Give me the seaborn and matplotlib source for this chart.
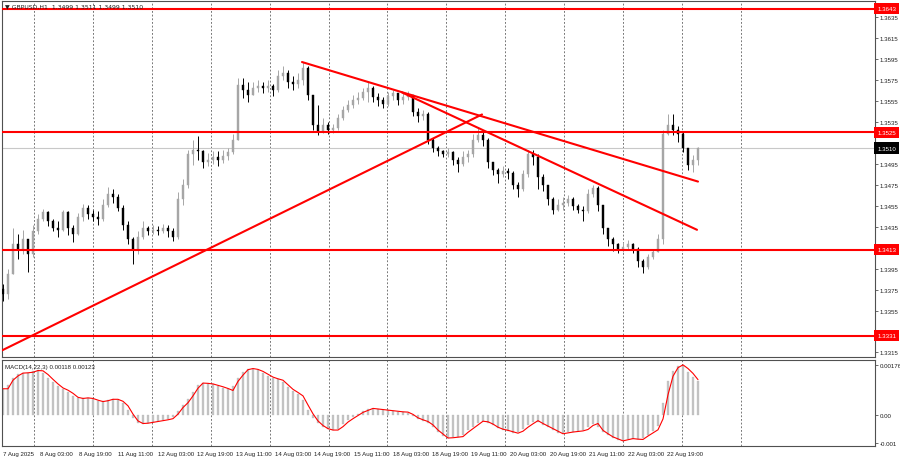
import numpy as np
import pandas as pd
import matplotlib
matplotlib.use("Agg")
import matplotlib.pyplot as plt
import matplotlib.transforms as mtransforms
import seaborn as sns

# ---------------- data ----------------
symbol = "GBPUSD,H1"
header_ohlc = ["1.3499", "1.3511", "1.3499", "1.3510"]
macd_title = "MACD(14,22,3) 0.00118 0.00123"

first_open = 1.3376
closes = [1.3371, 1.3390, 1.3418, 1.3414, 1.3423, 1.3409, 1.3431, 1.3442, 1.3449, 1.3440,
          1.3434, 1.3432, 1.3449, 1.3434, 1.3428, 1.3444, 1.3453, 1.3447, 1.3444, 1.3442,
          1.3456, 1.3466, 1.3463, 1.3453, 1.3437, 1.3423, 1.3414, 1.3425, 1.3434, 1.3431,
          1.3432, 1.3431, 1.3434, 1.3431, 1.3425, 1.3461, 1.3475, 1.3504, 1.3508, 1.3507,
          1.3497, 1.3499, 1.3501, 1.3499, 1.3502, 1.3506, 1.3518, 1.3570, 1.3565, 1.3561,
          1.3567, 1.3569, 1.3567, 1.3569, 1.3565, 1.3579, 1.3582, 1.3573, 1.3571, 1.3575,
          1.3586, 1.3561, 1.3532, 1.3525, 1.3532, 1.3527, 1.3529, 1.3539, 1.3546, 1.3551,
          1.3556, 1.3558, 1.3563, 1.3567, 1.3559, 1.3556, 1.3552, 1.3560, 1.3562, 1.3556,
          1.3559, 1.3561, 1.3544, 1.3541, 1.3542, 1.3518, 1.3510, 1.3507, 1.3504, 1.3506,
          1.3499, 1.3495, 1.3501, 1.3504, 1.3518, 1.3522, 1.3518, 1.3497, 1.3489, 1.3485,
          1.3488, 1.3486, 1.3475, 1.3471, 1.3485, 1.3504, 1.3501, 1.3482, 1.3475, 1.3461,
          1.3451, 1.3456, 1.3458, 1.3461, 1.3455, 1.3451, 1.3450, 1.3466, 1.3472, 1.3456,
          1.3434, 1.3423, 1.3418, 1.3414, 1.3416, 1.3418, 1.3414, 1.3402, 1.3397, 1.3406,
          1.3411, 1.3423, 1.3523, 1.3532, 1.3527, 1.3523, 1.3510, 1.3494, 1.3499, 1.3510]
highs = [1.3380, 1.3395, 1.3434, 1.3428, 1.3432, 1.3423, 1.3437, 1.3447, 1.3452, 1.3450,
         1.3442, 1.3440, 1.3451, 1.3450, 1.3437, 1.3448, 1.3457, 1.3456, 1.3451, 1.3450,
         1.3461, 1.3473, 1.3471, 1.3466, 1.3456, 1.3440, 1.3425, 1.3431, 1.3440, 1.3436,
         1.3437, 1.3436, 1.3438, 1.3437, 1.3434, 1.3468, 1.3480, 1.3508, 1.3518, 1.3521,
         1.3508, 1.3505, 1.3507, 1.3507, 1.3508, 1.3510, 1.3523, 1.3577, 1.3577, 1.3573,
         1.3573, 1.3575, 1.3573, 1.3575, 1.3571, 1.3584, 1.3588, 1.3584, 1.3579, 1.3582,
         1.3592, 1.3588, 1.3561, 1.3551, 1.3539, 1.3535, 1.3533, 1.3542, 1.3550, 1.3556,
         1.3561, 1.3563, 1.3567, 1.3573, 1.3569, 1.3562, 1.3559, 1.3563, 1.3565, 1.3562,
         1.3563, 1.3564, 1.3561, 1.3548, 1.3546, 1.3544, 1.3520, 1.3512, 1.3508, 1.3510,
         1.3507, 1.3501, 1.3507, 1.3508, 1.3523, 1.3529, 1.3525, 1.3520, 1.3497, 1.3491,
         1.3493, 1.3491, 1.3488, 1.3478, 1.3489, 1.3508, 1.3508, 1.3504, 1.3485, 1.3475,
         1.3463, 1.3461, 1.3463, 1.3465, 1.3463, 1.3457, 1.3455, 1.3471, 1.3475, 1.3474,
         1.3456, 1.3434, 1.3425, 1.3419, 1.3420, 1.3422, 1.3419, 1.3416, 1.3404, 1.3409,
         1.3414, 1.3428, 1.3527, 1.3542, 1.3542, 1.3531, 1.3525, 1.3510, 1.3503, 1.3511]
lows = [1.3364, 1.3366, 1.3390, 1.3404, 1.3409, 1.3392, 1.3406, 1.3428, 1.3440, 1.3436,
        1.3431, 1.3425, 1.3431, 1.3427, 1.3420, 1.3427, 1.3440, 1.3442, 1.3440, 1.3437,
        1.3440, 1.3454, 1.3458, 1.3450, 1.3432, 1.3418, 1.3399, 1.3409, 1.3423, 1.3427,
        1.3428, 1.3427, 1.3429, 1.3425, 1.3421, 1.3423, 1.3456, 1.3472, 1.3494, 1.3499,
        1.3491, 1.3493, 1.3495, 1.3493, 1.3496, 1.3499, 1.3504, 1.3518, 1.3558, 1.3554,
        1.3561, 1.3563, 1.3562, 1.3563, 1.3560, 1.3563, 1.3575, 1.3567, 1.3565, 1.3567,
        1.3570, 1.3556, 1.3527, 1.3522, 1.3524, 1.3523, 1.3524, 1.3527, 1.3537, 1.3544,
        1.3548, 1.3552, 1.3556, 1.3554, 1.3554, 1.3550, 1.3548, 1.3550, 1.3556, 1.3551,
        1.3552, 1.3556, 1.3541, 1.3535, 1.3537, 1.3514, 1.3506, 1.3502, 1.3501, 1.3501,
        1.3494, 1.3487, 1.3493, 1.3497, 1.3501, 1.3516, 1.3512, 1.3491, 1.3484, 1.3477,
        1.3482, 1.3480, 1.3471, 1.3463, 1.3469, 1.3482, 1.3494, 1.3471, 1.3469, 1.3456,
        1.3447, 1.3450, 1.3451, 1.3455, 1.3451, 1.3448, 1.3440, 1.3448, 1.3463, 1.3450,
        1.3428, 1.3417, 1.3412, 1.3410, 1.3411, 1.3414, 1.3410, 1.3397, 1.3391, 1.3395,
        1.3404, 1.3411, 1.3418, 1.3522, 1.3522, 1.3516, 1.3506, 1.3489, 1.3487, 1.3494]

macd_main = [0.00091, 0.00105, 0.00130, 0.00142, 0.00148, 0.00148, 0.00152, 0.00157, 0.00148, 0.00130,
             0.00114, 0.00100, 0.00089, 0.00080, 0.00066, 0.00058, 0.00058, 0.00058, 0.00054, 0.00048,
             0.00048, 0.00052, 0.00055, 0.00052, 0.00040, 0.00018, -0.00012, -0.00028, -0.00031, -0.00029,
             -0.00026, -0.00023, -0.00020, -0.00016, -0.00008, 0.00012, 0.00034, 0.00055, 0.00080, 0.00104,
             0.00112, 0.00109, 0.00106, 0.00100, 0.00095, 0.00089, 0.00100, 0.00130, 0.00150, 0.00162,
             0.00161, 0.00156, 0.00147, 0.00137, 0.00129, 0.00124, 0.00113, 0.00097, 0.00084, 0.00072,
             0.00050, 0.00018, -0.00010, -0.00030, -0.00044, -0.00052, -0.00055, -0.00049, -0.00034, -0.00020,
             -0.00008, 0.00003, 0.00012, 0.00019, 0.00021, 0.00019, 0.00017, 0.00015, 0.00013, 0.00011,
             0.00009, 0.00005, -0.00005, -0.00015, -0.00021, -0.00030, -0.00045, -0.00061, -0.00075, -0.00082,
             -0.00080, -0.00078, -0.00070, -0.00055, -0.00042, -0.00029, -0.00022, -0.00029, -0.00038, -0.00048,
             -0.00053, -0.00057, -0.00063, -0.00062, -0.00051, -0.00038, -0.00026, -0.00026, -0.00036, -0.00045,
             -0.00054, -0.00063, -0.00066, -0.00062, -0.00060, -0.00058, -0.00055, -0.00045, -0.00034, -0.00043,
             -0.00061, -0.00072, -0.00082, -0.00088, -0.00090, -0.00086, -0.00085, -0.00086, -0.00081, -0.00070,
             -0.00058, -0.00040, 0.00040, 0.00120, 0.00155, 0.00172, 0.00170, 0.00150, 0.00132, 0.00118]
macd_signal = [0.00091, 0.00091, 0.00121, 0.00136, 0.00146, 0.00147, 0.00149, 0.00155, 0.00154, 0.00141,
               0.00124, 0.00108, 0.00094, 0.00086, 0.00075, 0.00061, 0.00057, 0.00059, 0.00057, 0.00051,
               0.00046, 0.00049, 0.00054, 0.00054, 0.00047, 0.00031, 0.00002, -0.00022, -0.00031, -0.00030,
               -0.00027, -0.00024, -0.00021, -0.00018, -0.00014, 0.00002, 0.00025, 0.00042, 0.00066, 0.00093,
               0.00111, 0.00110, 0.00108, 0.00103, 0.00098, 0.00092, 0.00085, 0.00117, 0.00139, 0.00158,
               0.00162, 0.00159, 0.00152, 0.00142, 0.00132, 0.00126, 0.00121, 0.00105, 0.00089, 0.00078,
               0.00066, 0.00034, 0.00003, -0.00022, -0.00038, -0.00049, -0.00054, -0.00054, -0.00042, -0.00026,
               -0.00014, -0.00003, 0.00008, 0.00015, 0.00022, 0.00020, 0.00018, 0.00016, 0.00014, 0.00012,
               0.00010, 0.00009, 0.00001, -0.00011, -0.00018, -0.00024, -0.00036, -0.00054, -0.00068, -0.00082,
               -0.00081, -0.00079, -0.00077, -0.00062, -0.00049, -0.00036, -0.00023, -0.00025, -0.00033, -0.00044,
               -0.00051, -0.00055, -0.00060, -0.00065, -0.00058, -0.00044, -0.00032, -0.00021, -0.00031, -0.00040,
               -0.00049, -0.00058, -0.00067, -0.00064, -0.00061, -0.00059, -0.00057, -0.00052, -0.00038, -0.00031,
               -0.00055, -0.00067, -0.00078, -0.00085, -0.00092, -0.00088, -0.00084, -0.00086, -0.00087, -0.00075,
               -0.00064, -0.00053, -0.00015, 0.00070, 0.00135, 0.00165, 0.00175, 0.00162, 0.00145, 0.00123]

levels = [1.3643, 1.3525, 1.3413, 1.3331]
current_price = 1.3510
# trend lines: (bar index, price) start and end
trend_lines = [((-0.2, 1.3317), (95.8, 1.3542)),
               ((59.8, 1.3592), (139.0, 1.3478)),
               ((79.8, 1.3563), (138.8, 1.3432))]
price_ticks = [1.3315, 1.3335, 1.3355, 1.3375, 1.3395, 1.3415, 1.3435, 1.3455, 1.3475,
               1.3495, 1.3515, 1.3535, 1.3555, 1.3575, 1.3595, 1.3615, 1.3635]
hidden_price_ticks = [1.3415]  # covered by the 1.3413 level box in the reference
macd_ticks = [0.00176, 0.0, -0.001]
macd_tick_labels = ["0.00176", "0.00", "-0.001"]
time_labels = ["7 Aug 2025", "8 Aug 03:00", "8 Aug 19:00", "11 Aug 11:00", "12 Aug 03:00",
               "12 Aug 19:00", "13 Aug 11:00", "14 Aug 03:00", "14 Aug 19:00", "15 Aug 11:00",
               "18 Aug 03:00", "18 Aug 19:00", "19 Aug 11:00", "20 Aug 03:00", "20 Aug 19:00",
               "21 Aug 11:00", "22 Aug 03:00", "22 Aug 19:00"]

# ---------------- build ----------------
n = len(closes)
idx = np.arange(n)
opens = [first_open] + closes[:-1]
df = pd.DataFrame({"i": idx, "open": opens, "high": highs, "low": lows, "close": closes,
                   "macd": macd_main, "signal": macd_signal})
df["bull"] = df["close"] >= df["open"]

sns.set_style("white")
plt.rcParams["font.family"] = ["Liberation Sans", "DejaVu Sans"]

W, H = 900, 460
fig = plt.figure(figsize=(9, 4.6), dpi=100)


def rect(x0, y0, x1, y1):
    return [x0 / W, 1 - y1 / H, (x1 - x0) / W, (y1 - y0) / H]


ax = fig.add_axes(rect(2, 2, 875, 358))
axm = fig.add_axes(rect(2, 361, 875, 447), sharex=ax)

FS = 4.4
BULL = "#a6a6a6"
BEAR = "#000000"
RED = "#ff0000"

for a in (ax, axm):
    for s in a.spines.values():
        s.set_color("#505050")
        s.set_linewidth(0.8)
    a.set_facecolor("white")

xmin, xmax = -0.2, 174.4
ax.set_xlim(xmin, xmax)
ax.set_ylim(1.33107, 1.36502)

# vertical day separators (dotted)
grid_pos = [6.2 + 11.78 * k for k in range(13)]
for a in (ax, axm):
    for g in grid_pos:
        a.axvline(g, color="#606060", lw=0.6, ls=(0, (2.2, 2.2)), zorder=0)

# candles
wick_colors = np.where(df["bull"], BULL, BEAR)
ax.vlines(df["i"], df["low"], df["high"], colors=wick_colors, lw=0.7, zorder=3)
body_bottom = np.minimum(df["open"], df["close"])
body_h = np.maximum(np.abs(df["close"] - df["open"]), 0.00006)
ax.bar(df["i"], body_h, bottom=body_bottom, width=0.5, color=wick_colors,
       edgecolor=wick_colors, linewidth=0.3, zorder=4)

# current price line
ax.axhline(current_price, color="#c8c8c8", lw=0.8, zorder=1)

# support/resistance levels
for lv in levels:
    ax.axhline(lv, color=RED, lw=1.5, zorder=5)

# trend lines
for (x0, y0), (x1, y1) in trend_lines:
    tl = pd.DataFrame({"x": [x0, x1], "y": [y0, y1]})
    sns.lineplot(data=tl, x="x", y="y", ax=ax, color=RED, lw=1.5, zorder=6,
                 estimator=None, sort=False)
ax.set_xlabel("")
ax.set_ylabel("")

# price axis on right
ax.yaxis.tick_right()
ax.set_yticks(price_ticks)
ax.set_yticklabels(["" if p in hidden_price_ticks else f"{p:.4f}" for p in price_ticks],
                   fontsize=FS, color="#202020")
ax.tick_params(axis="y", length=2, width=0.5, pad=1.2, colors="#303030", labelcolor="#202020")
ax.tick_params(axis="x", which="both", bottom=False, labelbottom=False)

trans = mtransforms.blended_transform_factory(ax.transAxes, ax.transData)
for lv in levels:
    ax.text(1.0025, lv, f"{lv:.4f}", transform=trans, fontsize=FS, color="white",
            va="center", ha="left", zorder=10,
            bbox=dict(facecolor=RED, edgecolor="none", pad=0.5, boxstyle="square"))
ax.text(1.0025, current_price, f"{current_price:.4f}", transform=trans, fontsize=FS,
        color="white", va="center", ha="left", zorder=10,
        bbox=dict(facecolor="black", edgecolor="none", pad=0.5, boxstyle="square"))

# header
fig.text(5 / W, 1 - 6.5 / H, "\u25bc " + symbol + "  " + " ".join(header_ohlc),
         fontsize=FS, va="center", ha="left", color="#202020",
         family=["DejaVu Sans"])

# ---------------- MACD panel ----------------
axm.set_ylim(-0.00110, 0.00192)
axm.bar(df["i"], df["macd"], width=0.45, color="#c4c4c4", edgecolor="#b8b8b8",
        linewidth=0.2, zorder=2)
sns.lineplot(data=df, x="i", y="signal", ax=axm, color=RED, lw=0.8, zorder=4,
             estimator=None, sort=False)
axm.set_xlabel("")
axm.set_ylabel("")
axm.yaxis.tick_right()
axm.set_yticks(macd_ticks)
axm.set_yticklabels(macd_tick_labels, fontsize=FS, color="#202020")
axm.tick_params(axis="y", length=2, width=0.5, pad=1.2, colors="#303030", labelcolor="#202020")
axm.text(0.003, 0.93, macd_title, transform=axm.transAxes, fontsize=FS,
         va="center", ha="left", color="#202020")

label_pos = [0.0] + [7.4 + 7.84 * k for k in range(len(time_labels) - 1)]
axm.set_xticks(label_pos)
axm.set_xticklabels(time_labels, fontsize=FS, ha="left", color="#202020")
axm.tick_params(axis="x", length=2, width=0.5, pad=1.5, colors="#303030", labelcolor="#202020")
axm.set_xlim(xmin, xmax)

fig.savefig("out.png", dpi=100, facecolor="white")
